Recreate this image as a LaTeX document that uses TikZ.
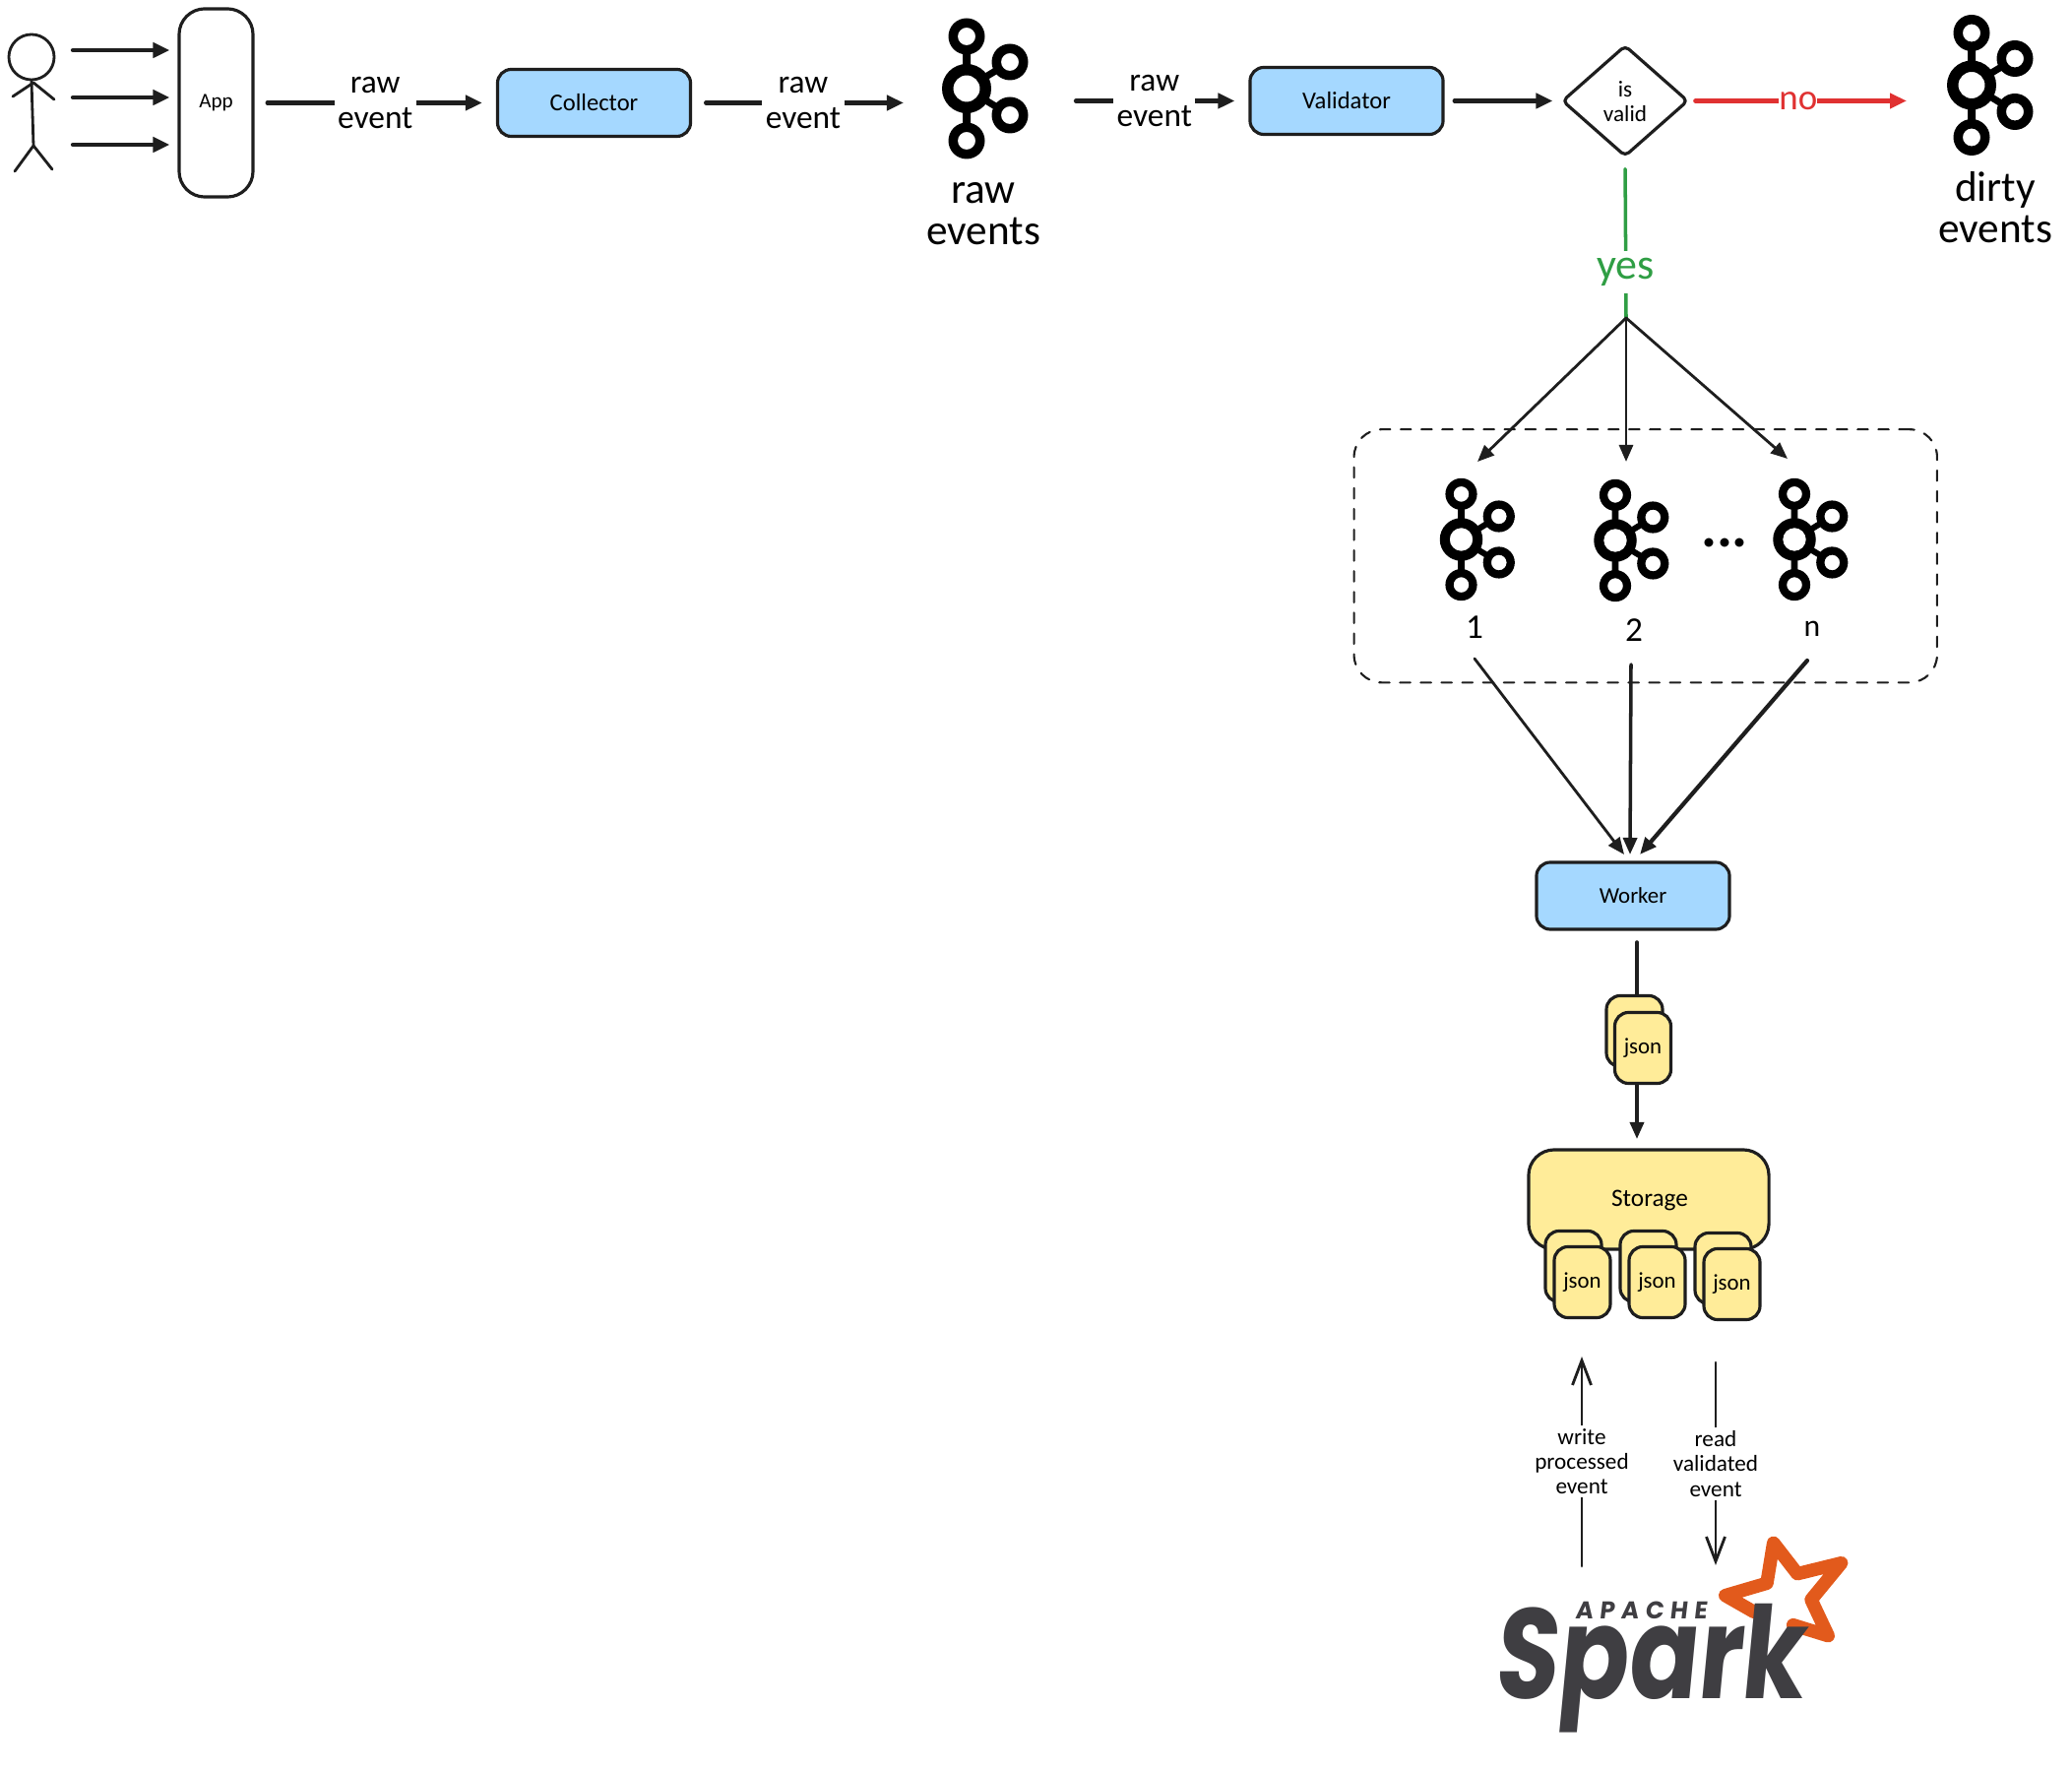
\documentclass[tikz,border=0pt]{standalone}
\usepackage{fontspec}
\setmainfont{Carlito}
\newfontfamily\sparkfont[FakeSlant=.12]{Poppins}
\usetikzlibrary{arrows.meta,shapes.geometric}

\definecolor{ink}{HTML}{1E1E1E}
\definecolor{procblue}{HTML}{A5D8FF}
\definecolor{storeyellow}{HTML}{FFEC99}
\definecolor{yesgreen}{HTML}{2F9E44}
\definecolor{nored}{HTML}{E03131}
\definecolor{sparkorange}{HTML}{E25A1C}
\definecolor{sparkgray}{HTML}{3F3E42}

\tikzset{
  box/.style={draw=ink, line width=.9pt, align=center, inner sep=0pt,
    rounded corners=.14cm, font=\fontsize{7}{8}\selectfont},
  procbox/.style={box, fill=procblue, minimum width=1.96cm, minimum height=.68cm},
  jsonbox/.style={box, fill=storeyellow, minimum width=.57cm, minimum height=.72cm,
    font=\fontsize{6.5}{8}\selectfont},
  flow/.style={draw=ink, line width=1.2pt, -{Triangle[length=.17cm,width=.15cm]}},
  thinflow/.style={draw=ink, line width=.8pt, -{Triangle[length=.17cm,width=.14cm]}},
  openflow/.style={draw=ink, line width=.8pt, -{Straight Barb[length=.25cm,width=.19cm]}},
  edgelabel/.style={fill=white, align=center, inner sep=1pt,
    font=\fontsize{9.5}{10}\selectfont},
  smalllabel/.style={fill=white, align=center, inner sep=1pt,
    font=\fontsize{6.6}{7.2}\selectfont},
  biglabel/.style={align=center, inner sep=0pt, font=\fontsize{12.3}{12}\selectfont},
  countlabel/.style={inner sep=0pt, font=\fontsize{10}{12}\selectfont},
  kafka/.pic={
    \fill[even odd rule] (0,0) circle (25) (0,0) circle (13.5);
    \foreach \px/\py in {0/-53,0/53,44/-27,44/27}
      \fill[even odd rule] (\px,\py) circle (18.5) (\px,\py) circle (9);
    \fill (-4,-38) rectangle (4,-20) (-4,20) rectangle (4,38);
    \fill (15.2,-13.5) -- (28.9,-21.8) -- (32.5,-15.8) -- (18.8,-7.5) -- cycle;
    \fill (15.2,13.5) -- (28.9,21.8) -- (32.5,15.8) -- (18.8,7.5) -- cycle;
  }
}

\begin{document}
\begin{tikzpicture}[x=.01cm, y=-.01cm, line cap=round, line join=round]
  \useasboundingbox (0,0) rectangle (2105,1798);

  % user
  \node[circle, draw=ink, line width=.8pt, minimum size=.46cm, inner sep=0pt] (head) at (32,58) {};
  \coordinate (hip) at (34,148);
  \coordinate (neck) at (34,84);
  \draw[ink, line width=.8pt] (head.south) -- (hip) -- (15,174);
  \draw[ink, line width=.8pt] (hip) -- (53,172);
  \draw[ink, line width=.8pt] (13,98) -- (neck) -- (55,101);

  % first row
  \node[box, minimum width=.75cm, minimum height=1.91cm, rounded corners=.26cm,
    font=\fontsize{6}{8}\selectfont] (app) at (219.5,104.5) {App};
  \node[procbox] (collector) at (603.5,104.5) {Collector};
  \node[procbox] (validator) at (1368,102.5) {Validator};
  \node[diamond, draw=ink, line width=.9pt, rounded corners=.05cm, minimum width=1.28cm,
    minimum height=1.13cm, inner sep=0pt] (isvalid) at (1651,102.5) {};
  \node[align=center, inner sep=0pt, font=\fontsize{6.6}{6.9}\selectfont] (isvalidtext) at (1651,103) {is\\valid};

  \foreach \y/\nm in {51/a,99/b,147/c} {
    \coordinate (user\nm) at (74,\y);
    \draw[flow, shorten >=.08cm] (user\nm) -- (user\nm -| app.west);
  }

  % topics
  \pic at (982,90) {kafka};
  \pic at (2003,86.5) {kafka};
  \node[biglabel] (rawname) at (999,217) {raw\\events};
  \node[biglabel] (dirtyname) at (2027,211) {dirty\\events};

  \coordinate (rawin) at (918,104.5);
  \coordinate (rawout) at (1093,102.5);
  \coordinate (dirtyin) at (1937,102.5);
  \coordinate (fork) at (1652,323);

  \draw[flow, shorten <=.13cm, shorten >=.14cm] (app.east) -- node[edgelabel] (rawa) {raw\\event} (collector.west);
  \draw[flow, shorten <=.14cm] (collector.east) -- node[edgelabel, pos=.525] (rawb) {raw\\event} (rawin);
  \draw[flow, shorten >=.14cm] (rawout) -- node[edgelabel, pos=.455] (rawc) {raw\\event} (validator.west);
  \draw[flow, shorten <=.1cm, shorten >=.08cm] (validator.east) -- (isvalid.west);
  \draw[nored, line width=1.4pt, shorten <=.06cm, -{Triangle[length=.17cm,width=.15cm]}]
    (isvalid.east) -- node[fill=white, inner sep=0pt, text=nored,
    font=\fontsize{10.5}{12}\selectfont] (nolabel) {no} (dirtyin);
  \draw[yesgreen, line width=1pt, shorten <=.11cm]
    (isvalid.south) -- node[fill=white, inner sep=2pt, pos=.713, text=yesgreen,
    font=\fontsize{12.5}{14}\selectfont] (yeslabel) {yes} (fork);

  % partitions
  \node[draw=ink, dashed, line width=.6pt, rounded corners=.28cm, minimum width=5.92cm,
    minimum height=2.57cm] (topics) at (1671.75,564.75) {};
  \pic[scale=.87] at (1484.5,548) {kafka};
  \pic[scale=.87] at (1641,549) {kafka};
  \pic[scale=.87] at (1823,548) {kafka};
  \node[anchor=base, inner sep=0pt, font=\fontsize{17}{19}\selectfont\bfseries] (more) at (1752,556) {...};
  \node[countlabel] (labone) at (1498,637) {1};
  \node[countlabel] (labtwo) at (1660,640) {2};
  \node[countlabel, font=\fontsize{9}{12}\selectfont] (labn) at (1841,639) {n};

  \coordinate (tone) at (1501,469);
  \coordinate (ttwo) at (1652,469);
  \coordinate (tn) at (1816,466);
  \foreach \t in {tone,ttwo,tn}
    \draw[thinflow] (fork) -- (\t);

  % worker
  \node[procbox, font=\fontsize{6.5}{8}\selectfont] (worker) at (1659,910) {Worker};
  \coordinate (sone) at (1498,669);
  \coordinate (stwo) at (1657,675);
  \coordinate (sn) at (1836,671);
  \coordinate (wone) at (1650,868);
  \coordinate (wtwo) at (1656,868);
  \coordinate (wn) at (1666,868);
  \draw[thinflow] (sone) -- (wone);
  \draw[thinflow, line width=1pt] (stwo) -- (wtwo);
  \draw[thinflow, line width=1.2pt] (sn) -- (wn);

  % storage
  \node[box, fill=storeyellow, minimum width=2.44cm, minimum height=1.01cm,
    rounded corners=.26cm] (storage) at (1675,1218.5) {};
  \node[inner sep=0pt, font=\fontsize{7.2}{9}\selectfont] (storagetext) at (1676,1219) {Storage};

  \node[jsonbox] (backw) at (1660.5,1047.5) {};
  \node[jsonbox] (jsonw) at (1669,1064.5) {json};
  \foreach \bx/\by/\nm in {1598.5/1286.5/a,1674.5/1286.5/b,1750.5/1288.5/c} {
    \node[jsonbox] (back\nm) at (\bx,\by) {};
    \node[jsonbox] (json\nm) at ({\bx+9},{\by+16}) {json};
  }

  \coordinate (wout) at (1663,957);
  \coordinate (stin) at (1663,1157);
  \draw[ink, line width=1pt] (wout) -- (wout |- backw.north);
  \draw[thinflow, line width=1pt] (wout |- jsonw.south) -- (stin);

  % spark
  \draw[sparkorange, line width=.135cm]
    (1781.7,1637.3) -- (1752.7,1620.7) -- (1795,1608.3) -- (1801.7,1567.3) -- (1826,1598.7)
    -- (1870.7,1587.7) -- (1840,1625) -- (1857.3,1661.7) -- (1821.7,1650.7);
  \node[anchor=base, inner sep=0pt, xscale=.8, transform shape, text=sparkgray,
    font=\sparkfont\bfseries\fontsize{37}{42}\selectfont] (spark) at (1675,1725) {Spark};
  \node[anchor=base, inner sep=0pt, text=sparkgray,
    font=\sparkfont\bfseries\fontsize{7}{8}\selectfont\addfontfeature{LetterSpace=26}] (apache) at (1667,1644) {APACHE};

  \coordinate (wrfrom) at (1607,1591);
  \coordinate (wrto) at (1607,1378);
  \coordinate (rdfrom) at (1743,1384);
  \coordinate (rdto) at (1743,1590);
  \draw[openflow] (wrfrom) -- node[smalllabel] (wrlabel) {write\\processed\\event} (wrto);
  \draw[openflow] (rdfrom) -- node[smalllabel] (rdlabel) {read\\validated\\event} (rdto);
\end{tikzpicture}
\end{document}
